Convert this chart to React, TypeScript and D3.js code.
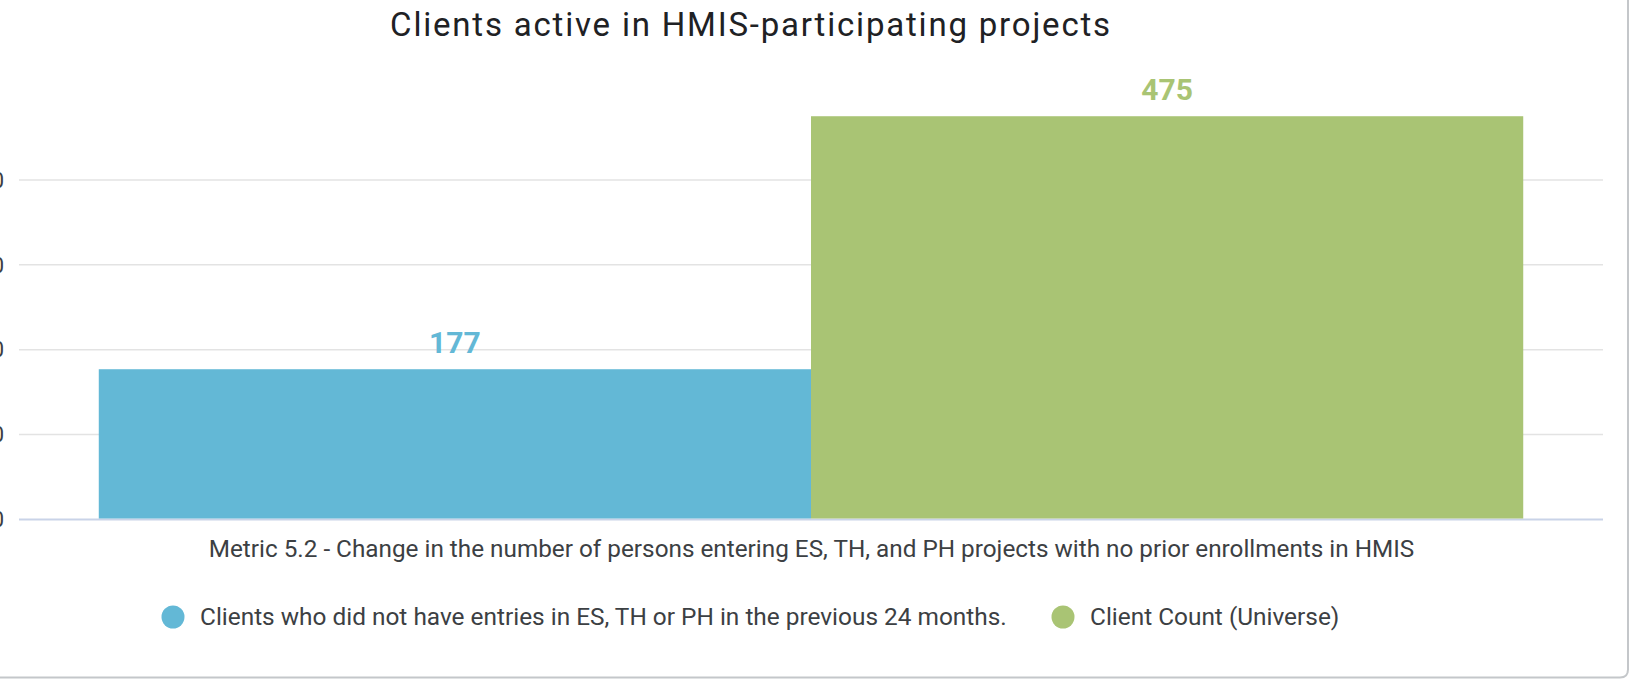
import React from 'react';
import * as d3 from 'd3';

const title = 'Clients active in HMIS-participating projects';
const axisLabel = 'Metric 5.2 - Change in the number of persons entering ES, TH, and PH projects with no prior enrollments in HMIS';
const categories = ['Metric 5.2'];
const seriesNames = [
  'Clients who did not have entries in ES, TH or PH in the previous 24 months.',
  'Client Count (Universe)',
];
const seriesValues = [177, 475];
const seriesColors = ['#63b8d6', '#a9c474'];
const yTicks = [0, 100, 200, 300, 400];

const width = 1629;
const height = 682;
const plotLeft = 19;
const plotRight = 1603;
const baseY = 519.5;
const topY = 95;

const font = 'Roboto, "Noto Sans", sans-serif';

const App = () => {
  const y = d3.scaleLinear().domain([0, 500]).range([baseY, topY]);
  const x0 = d3
    .scaleBand()
    .domain(categories)
    .range([plotLeft, plotRight])
    .paddingInner(0)
    .paddingOuter(0.056);
  const x1 = d3
    .scaleBand()
    .domain(seriesNames)
    .range([0, x0.bandwidth()])
    .padding(0);

  // legend positions (circle x)
  const legendX = [173, 1063];

  return (
    <div style={{ position: 'fixed', left: 0, top: 0 }}>
      <svg width={width} height={height} style={{ display: 'block', background: '#fff' }}>
        <text
          x={751}
          y={36}
          textAnchor="middle"
          fontFamily={font}
          fontSize={33}
          letterSpacing={1.8}
          fill="#202124"
        >
          {title}
        </text>

        {/* gridlines, tick labels sit mostly past the left edge like the original */}
        {yTicks.map(t => (
          <g key={t}>
            <line
              x1={plotLeft}
              x2={plotRight}
              y1={y(t)}
              y2={y(t)}
              stroke={t === 0 ? '#c9d3e8' : '#e3e3e3'}
              strokeWidth={t === 0 ? 2 : 1.5}
            />
            <text
              x={4}
              y={y(t)}
              dy="0.35em"
              textAnchor="end"
              fontFamily={font}
              fontSize={22}
              fill="#3c4043"
            >
              {t}
            </text>
          </g>
        ))}

        {categories.map(c => (
          <g key={c} transform={`translate(${x0(c)},0)`}>
            {seriesNames.map((s, i) => (
              <g key={s}>
                <rect
                  x={x1(s)}
                  y={y(seriesValues[i])}
                  width={x1.bandwidth()}
                  height={baseY - 1 - y(seriesValues[i])}
                  fill={seriesColors[i]}
                />
                <text
                  x={(x1(s) || 0) + x1.bandwidth() / 2}
                  y={y(seriesValues[i]) - 16}
                  textAnchor="middle"
                  fontFamily={font}
                  fontWeight="bold"
                  fontSize={30}
                  fill={seriesColors[i]}
                >
                  {seriesValues[i]}
                </text>
              </g>
            ))}
          </g>
        ))}

        <text
          x={811.5}
          y={557}
          textAnchor="middle"
          fontFamily={font}
          fontSize={24.3}
          fill="#3c4043"
        >
          {axisLabel}
        </text>

        {seriesNames.map((s, i) => (
          <g key={s}>
            <circle cx={legendX[i]} cy={617} r={11.5} fill={seriesColors[i]} />
            <text
              x={legendX[i] + 27}
              y={625}
              fontFamily={font}
              fontSize={24.4}
              fill="#3c4043"
            >
              {s}
            </text>
          </g>
        ))}

        {/* card border */}
        <path
          d="M -10 677.5 L 1620 677.5 Q 1628 677.5 1628 669.5 L 1628 -10"
          fill="none"
          stroke="#c4c7ca"
          strokeWidth={2}
        />
      </svg>
    </div>
  );
};

export default App;
